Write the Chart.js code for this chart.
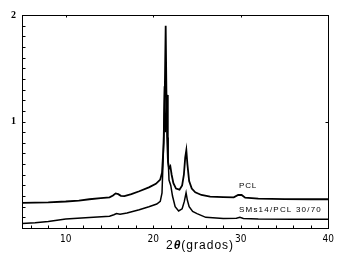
<!DOCTYPE html>
<html>
<head>
<meta charset="utf-8">
<script src="https://cdn.jsdelivr.net/npm/chart.js@4.4.0/dist/chart.umd.min.js"></script>
<style>
  html, body { margin: 0; padding: 0; background: #fff; }
  canvas { display: block; }
</style>
</head>
<body>
<canvas id="xrdChart" width="339" height="262"></canvas>
<script>
// diffractogram: 2theta (deg) vs intensity
let pclAngle = [5.0, 6.5, 8.0, 10.0, 11.5, 12.7, 14.0, 15.0, 15.4, 15.7, 16.0, 16.3, 16.7, 17.5, 18.4, 19.5, 20.3, 20.8, 21.0, 21.2, 21.32, 21.42, 21.5, 21.58, 21.68, 21.8, 21.95, 22.1, 22.3, 22.6, 23.0, 23.3, 23.5, 23.65, 23.78, 23.9, 24.1, 24.4, 24.8, 25.5, 26.5, 28.0, 29.2, 29.7, 30.1, 30.5, 32.0, 35.0, 38.0, 40.0];
let pclIntensity = [0.236, 0.238, 0.241, 0.249, 0.258, 0.270, 0.280, 0.288, 0.305, 0.325, 0.318, 0.302, 0.300, 0.318, 0.345, 0.382, 0.415, 0.455, 0.52, 0.80, 1.30, 1.90, 1.30, 0.85, 0.62, 0.56, 0.58, 0.50, 0.42, 0.37, 0.36, 0.40, 0.50, 0.66, 0.73, 0.60, 0.44, 0.37, 0.335, 0.31, 0.295, 0.29, 0.288, 0.31, 0.31, 0.285, 0.275, 0.272, 0.270, 0.27];

let blendAngle = [5.0, 6.5, 8.0, 10.0, 12.7, 15.0, 15.5, 15.8, 16.2, 17.0, 18.4, 19.5, 20.4, 20.8, 21.0, 21.15, 21.28, 21.4, 21.5, 21.58, 21.68, 21.8, 22.0, 22.2, 22.5, 22.9, 23.3, 23.55, 23.75, 23.9, 24.1, 24.5, 25.0, 26.0, 28.0, 29.5, 29.9, 30.3, 32.0, 36.0, 40.0];
let blendIntensity = [0.042, 0.050, 0.062, 0.085, 0.098, 0.110, 0.125, 0.135, 0.130, 0.140, 0.172, 0.200, 0.225, 0.250, 0.33, 0.70, 1.33, 0.90, 1.00, 1.25, 0.70, 0.45, 0.40, 0.30, 0.20, 0.16, 0.18, 0.25, 0.33, 0.26, 0.20, 0.155, 0.135, 0.100, 0.090, 0.092, 0.100, 0.090, 0.085, 0.083, 0.082];

let angleTicks = [10, 20, 30, 40];
let intensityTicks = [1, 2];
let seriesNames = ['PCL', 'SMs14/PCL 30/70'];

function toPoints(xs, ys) {
    return xs.map((x, i) => ({ x: x, y: ys[i] }));
}

// frame, inward ticks, axis title and curve labels
let framePlugin = {
    id: 'frame',
    afterDraw(chart) {
        let ctx = chart.ctx;
        let a = chart.chartArea;
        let sx = chart.scales.x;
        let sy = chart.scales.y;
        let L = Math.round(a.left) + 0.5, R = Math.round(a.right) + 0.5;
        let T = Math.round(a.top) + 0.5, B = Math.round(a.bottom) + 0.5;
        ctx.save();
        ctx.strokeStyle = '#000';
        ctx.lineWidth = 1;
        ctx.strokeRect(L, T, R - L, B - T);

        ctx.beginPath();
        for (let v = 6; v < 40; v += 2) {
            let px = Math.round(sx.getPixelForValue(v)) + 0.5;
            ctx.moveTo(px, B);
            ctx.lineTo(px, B - 3);
        }
        for (let v of [10, 20, 30]) {
            let px = Math.round(sx.getPixelForValue(v)) + 0.5;
            ctx.moveTo(px, T);
            ctx.lineTo(px, T + 2);
        }
        for (let i = 1; i < 20; i++) {
            let py = Math.round(sy.getPixelForValue(i / 10)) + 0.5;
            ctx.moveTo(L, py);
            ctx.lineTo(L + 3, py);
        }
        let p1 = Math.round(sy.getPixelForValue(1)) + 0.5;
        ctx.moveTo(R, p1);
        ctx.lineTo(R - 3, p1);
        ctx.stroke();

        // axis title 2θ(grados)
        ctx.fillStyle = '#000';
        ctx.textBaseline = 'middle';
        ctx.textAlign = 'left';
        ctx.letterSpacing = '1px';
        let tx = 166, ty = 246;
        ctx.font = '12px "Liberation Sans", Arial, sans-serif';
        ctx.fillText('2', tx, ty);
        tx += ctx.measureText('2').width;
        ctx.font = 'bold italic 12px "Liberation Sans", Arial, sans-serif';
        ctx.fillText('θ', tx, ty);
        tx += ctx.measureText('θ').width;
        ctx.font = '12px "Liberation Sans", Arial, sans-serif';
        ctx.fillText('(grados)', tx, ty);

        // curve labels
        ctx.font = '8px "Liberation Sans", Arial, sans-serif';
        ctx.letterSpacing = '0.8px';
        ctx.fillText(seriesNames[0], sx.getPixelForValue(29.8), sy.getPixelForValue(0.40));
        ctx.letterSpacing = '1.2px';
        ctx.fillText(seriesNames[1], sx.getPixelForValue(29.8), sy.getPixelForValue(0.172));
        ctx.restore();
    }
};

let ctxXrd = document.getElementById('xrdChart').getContext('2d');

var chartXrd = new Chart(ctxXrd, {
    type: 'line',
    data: {
        datasets: [{
            label: seriesNames[0],
            data: toPoints(pclAngle, pclIntensity),
            borderColor: '#000',
            borderWidth: 1.8,
            pointRadius: 0,
            tension: 0
        }, {
            label: seriesNames[1],
            data: toPoints(blendAngle, blendIntensity),
            borderColor: '#000',
            borderWidth: 1.5,
            pointRadius: 0,
            tension: 0
        }]
    },
    options: {
        responsive: false,
        animation: false,
        devicePixelRatio: 1,
        layout: { padding: { top: 15, right: 9, left: 0, bottom: 0 } },
        plugins: {
            legend: { display: false },
            tooltip: { enabled: false }
        },
        scales: {
            x: {
                type: 'linear',
                min: 5,
                max: 40,
                grid: { display: false, drawTicks: false },
                border: { display: false },
                afterBuildTicks: (s) => { s.ticks = angleTicks.map(v => ({ value: v })); },
                afterFit: (s) => { s.height = 34; },
                ticks: {
                    padding: 5,
                    maxRotation: 0,
                    color: '#000',
                    font: { size: 10, family: '"DejaVu Sans Condensed", "Liberation Sans Narrow", sans-serif' }
                }
            },
            y: {
                min: 0,
                max: 2,
                grid: { display: false, drawTicks: false },
                border: { display: false },
                afterBuildTicks: (s) => { s.ticks = intensityTicks.map(v => ({ value: v })); },
                afterFit: (s) => { s.width = 22; },
                ticks: {
                    padding: 6,
                    color: '#000',
                    font: { size: 10, weight: 'bold', family: '"Liberation Serif", serif' }
                }
            }
        }
    },
    plugins: [framePlugin]
});
</script>
</body>
</html>
